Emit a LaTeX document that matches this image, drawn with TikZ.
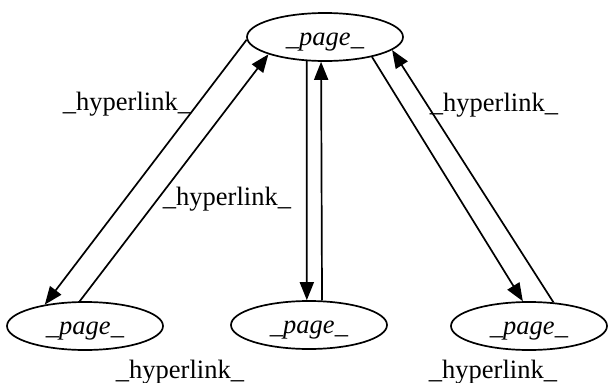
\documentclass[tikz,border=0pt]{standalone}
\usepackage{fontspec}
\setmainfont{Liberation Serif}
\usetikzlibrary{shapes.geometric,arrows.meta}
\begin{document}
\begin{tikzpicture}[x=1pt,y=-1pt,
  page/.style={draw, ellipse, line width=1.7pt, minimum width=156pt, minimum height=48pt, inner sep=0pt,
    font=\fontsize{26.5}{30}\selectfont\itshape, text height=20pt, text depth=4pt},
  link/.style={draw, line width=1.7pt, -{Triangle[length=18pt,width=14pt]}},
  lbl/.style={anchor=base, inner sep=0pt, font=\fontsize{26.5}{30}\selectfont}]
\useasboundingbox (0,0) rectangle (608,383);
\node[page] (T) at (325,37) {\_page\_};
\node[page] (L) at (85,326) {\_page\_};
\node[page] (M) at (309,325) {\_page\_};
\node[page] (R) at (529,326) {\_page\_};
\draw[link] (T.182) -- (L.152);
\draw[link] (L.102) -- (T.197);
\draw[link] (T.233) -- (M.95);
\draw[link] (M.62) -- (T.261);
\draw[link] (T.337) -- (R.104);
\draw[link] (R.44) -- (T.349.5);
\node[lbl] (la) at (127,110) {\_hyperlink\_};
\node[lbl] (lb) at (227,205) {\_hyperlink\_};
\node[lbl] (lc) at (494,111) {\_hyperlink\_};
\node[lbl] (ld) at (180,378) {\_hyperlink\_};
\node[lbl] (le) at (493,378) {\_hyperlink\_};
\end{tikzpicture}
\end{document}
